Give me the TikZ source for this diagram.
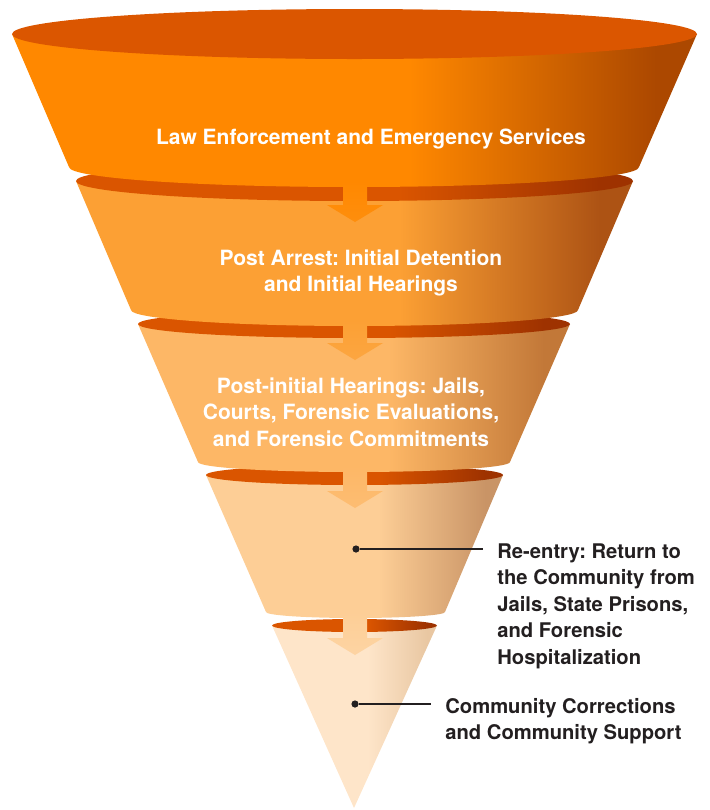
\documentclass[tikz,border=0pt]{standalone}
\usepackage{fontspec}
\setmainfont{TeX Gyre Heros}
\usepackage{tikz}
\frenchspacing

\definecolor{seg1A}{HTML}{FF8800}
\definecolor{seg1B}{HTML}{AC4800}
\definecolor{seg2A}{HTML}{FCA034}
\definecolor{seg2B}{HTML}{AD5314}
\definecolor{seg3A}{HTML}{FDB766}
\definecolor{seg3B}{HTML}{C27838}
\definecolor{seg4A}{HTML}{FDCE96}
\definecolor{seg4B}{HTML}{C99466}
\definecolor{seg5A}{HTML}{FEE5C9}
\definecolor{seg5B}{HTML}{E9C7A2}
\definecolor{rimA}{HTML}{DA5500}
\definecolor{rimB}{HTML}{9E3200}
\definecolor{topface}{HTML}{DB5600}
\definecolor{textdark}{HTML}{231F20}
\colorlet{segA}{white}
\colorlet{segB}{white}
\pgfdeclarehorizontalshading[segA,segB]{segshade}{100bp}{color(0bp)=(segA); color(54bp)=(segA); color(72bp)=(segB); color(100bp)=(segB)}

\begin{document}
\begin{tikzpicture}
 [x=0.5pt, y=-0.5pt,
  seg/.style 2 args={/utils/exec={\colorlet{segA}{#1}\colorlet{segB}{#2}}, shade, shading=segshade},
  rim/.style={seg={rimA}{rimB}},
  flow/.style 2 args={top color=#1, bottom color=#1!75!#2},
  white label/.style={text=white, font=\bfseries\fontsize{10.5}{13.25}\selectfont, align=center, inner sep=0pt},
  side label/.style={text=textdark, font=\bfseries\fontsize{10.1}{13.25}\selectfont, align=left, inner sep=0pt},
  dot/.style={circle, fill=textdark, inner sep=0pt, minimum size=3.6pt},
  callout/.style={draw=textdark, line width=0.7pt, shorten >=7pt}]

\useasboundingbox (0,0) rectangle (709,810);

% community corrections
\path[seg={seg5A}{seg5B}] (272,625.5) -- (354,808) -- (437,625.5) -- cycle;
\path[rim] (354.5,625.5) ellipse [x radius=82.5, y radius=6.5];

% re-entry
\path[seg={seg4A}{seg4B}] (206,475) -- (266,612) arc[start angle=180, end angle=0, x radius=89.5, y radius=6] -- (503,475) -- cycle;
\path[rim] (354.5,475) ellipse [x radius=148.5, y radius=10];

% post-initial hearings
\path[seg={seg3A}{seg3B}] (138,324) -- (198,462) arc[start angle=180, end angle=0, x radius=156, y radius=10] -- (570,324) -- cycle;
\path[rim] (354,324) ellipse [x radius=216, y radius=14];

% post arrest
\path[seg={seg2A}{seg2B}] (76,181) -- (131,310) arc[start angle=180, end angle=0, x radius=223.5, y radius=16] -- (633,181) -- cycle;
\path[rim] (354.5,181) ellipse [x radius=278.5, y radius=20];

% law enforcement
\path[seg={seg1A}{seg1B}] (12,34) -- (69,167) arc[start angle=180, end angle=0, x radius=285, y radius=20] -- (697,34) -- cycle;
\path[fill=topface] (354.5,34) ellipse [x radius=342.5, y radius=25];

% arrows
\path[flow={seg1A}{seg2A}] (343,181) -- (343,205) -- (327,205) -- (355,222) -- (383,205) -- (367,205) -- (367,181) -- cycle;
\path[flow={seg2A}{seg3A}] (343,320) -- (343,343) -- (327,343) -- (355,360) -- (383,343) -- (367,343) -- (367,320) -- cycle;
\path[flow={seg3A}{seg4A}] (343,466) -- (343,491) -- (327,491) -- (355,508) -- (383,491) -- (367,491) -- (367,466) -- cycle;
\path[flow={seg4A}{seg5A}] (343,612) -- (343,638) -- (327,638) -- (355,655) -- (383,638) -- (367,638) -- (367,612) -- cycle;

\node[white label, anchor=north] (law) at (371,128) {Law Enforcement and Emergency Services};
\node[white label, anchor=north] (arrest) at (361,249) {Post Arrest: Initial Detention\\and Initial Hearings};
\node[white label, anchor=north] (hearings) at (351,377) {Post-initial Hearings: Jails,\\Courts, Forensic Evaluations,\\and Forensic Commitments};

\node[dot] (reentry dot) at (356,549) {};
\node[side label, anchor=north west] (reentry) at (497,543) {Re-entry: Return to\\the Community from\\Jails, State Prisons,\\and Forensic\\Hospitalization};
\node[dot] (community dot) at (355,704) {};
\node[side label, anchor=north west] (community) at (445,698) {Community Corrections\\and Community Support};

\draw[callout] (reentry dot) -- (reentry dot -| reentry.west);
\draw[callout] (community dot) -- (community dot -| community.west);

\end{tikzpicture}
\end{document}
